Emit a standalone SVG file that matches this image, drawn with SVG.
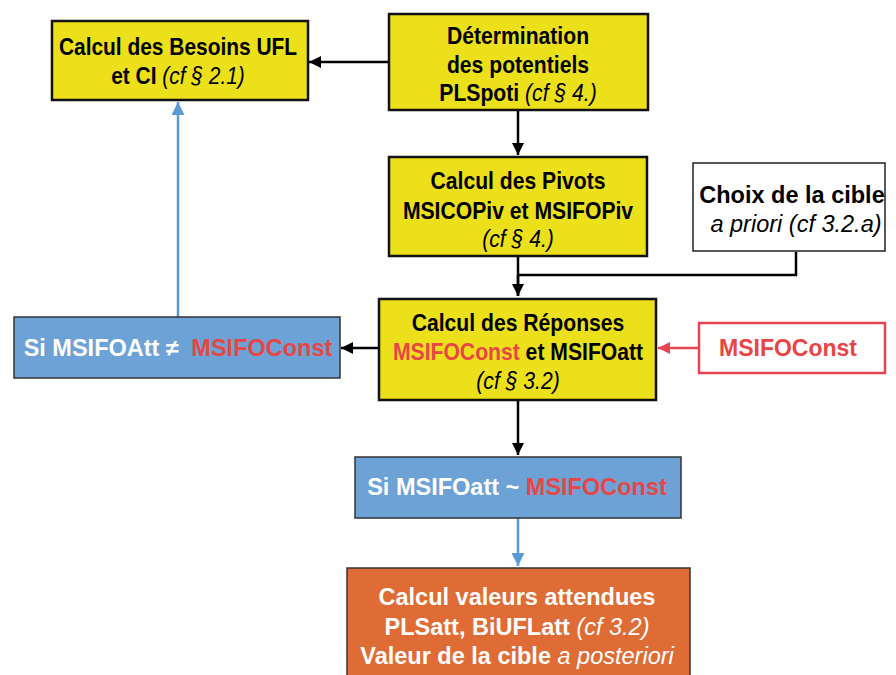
<svg xmlns="http://www.w3.org/2000/svg" width="896" height="675" viewBox="0 0 896 675">
<defs>
<style>
text{font-family:"Liberation Sans",Arial,sans-serif;font-weight:bold;text-anchor:middle}
.y{fill:#ECE01A;stroke:#111;stroke-width:2.5}
.w{fill:#fff;stroke:#222;stroke-width:1.5}
.b{fill:#6CA2D5;stroke:#333;stroke-width:1.5}
.o{fill:#E06C35;stroke:#333;stroke-width:1.5}
.r{fill:#fff;stroke:#E54550;stroke-width:2.5}
.t{font-size:23px;fill:#000}
.tw{font-size:23.5px;fill:#fff}
.red{fill:#E84545}
.it{font-style:italic;font-weight:normal}
.k{stroke:#000;stroke-width:2.5;fill:none}
.bl{stroke:#5B9BD5;stroke-width:2.5;fill:none}
.rl{stroke:#E54550;stroke-width:2.5;fill:none}
</style>
<marker id="ak" markerWidth="13" markerHeight="12" refX="10" refY="5" orient="auto" markerUnits="userSpaceOnUse" viewBox="0 0 10 10"><path d="M0,0 L10,5 L0,10 z" fill="#000"/></marker>
<marker id="ab" markerWidth="14" markerHeight="13" refX="10" refY="5" orient="auto" markerUnits="userSpaceOnUse" viewBox="0 0 10 10"><path d="M0,0 L10,5 L0,10 z" fill="#5B9BD5"/></marker>
<marker id="ar" markerWidth="13" markerHeight="12" refX="10" refY="5" orient="auto" markerUnits="userSpaceOnUse" viewBox="0 0 10 10"><path d="M0,0 L10,5 L0,10 z" fill="#E54550"/></marker>
</defs>
<rect width="896" height="675" fill="#fff"/>
<g id="connectors">
<line class="k" x1="389" y1="62" x2="309" y2="62" marker-end="url(#ak)"/>
<line class="k" x1="518" y1="110" x2="518" y2="155" marker-end="url(#ak)"/>
<polyline class="k" points="518,257 518,296"/>
<line class="k" x1="518" y1="275" x2="518" y2="296" marker-end="url(#ak)"/>
<polyline class="k" points="796,252 796,275 518,275"/>
<line class="k" x1="378" y1="348" x2="341" y2="348" marker-end="url(#ak)"/>
<line class="rl" x1="698" y1="348" x2="658" y2="348" marker-end="url(#ar)"/>
<line class="bl" x1="178" y1="317" x2="178" y2="102" marker-end="url(#ab)"/>
<line class="k" x1="518" y1="401" x2="518" y2="455" marker-end="url(#ak)"/>
<line class="bl" x1="518" y1="518" x2="518" y2="566" marker-end="url(#ab)"/>
</g>
<g id="besoins">
<rect class="y" x="52" y="21" width="256" height="79"/>
<text class="t" transform="translate(178,0) scale(0.91,1)" x="0" y="55">Calcul des Besoins UFL</text>
<text class="t" transform="translate(178,0) scale(0.91,1)" x="0" y="84">et CI <tspan class="it">(cf § 2.1)</tspan></text>
</g>
<g id="determination">
<rect class="y" x="389" y="14" width="259" height="96"/>
<text class="t" transform="translate(518,0) scale(0.92,1)" x="0" y="44">Détermination</text>
<text class="t" transform="translate(518,0) scale(0.92,1)" x="0" y="73">des potentiels</text>
<text class="t" transform="translate(518,0) scale(0.92,1)" x="0" y="101">PLSpoti <tspan class="it">(cf § 4.)</tspan></text>
</g>
<g id="pivots">
<rect class="y" x="389" y="157" width="258" height="99"/>
<text class="t" transform="translate(518,0) scale(0.92,1)" x="0" y="189">Calcul des Pivots</text>
<text class="t" transform="translate(518,0) scale(0.92,1)" x="0" y="219">MSICOPiv et MSIFOPiv</text>
<text class="t" transform="translate(518,0) scale(0.92,1)" x="0" y="247"><tspan class="it">(cf § 4.)</tspan></text>
</g>
<g id="choix">
<rect class="w" x="693" y="163" width="192" height="88"/>
<text class="t" x="792" y="203" style="font-size:23.5px">Choix de la cible</text>
<text class="t it" x="796" y="232" style="font-size:23.5px">a priori (cf 3.2.a)</text>
</g>
<g id="reponses">
<rect class="y" x="379" y="299" width="277" height="101"/>
<text class="t" transform="translate(518,0) scale(0.92,1)" x="0" y="331">Calcul des Réponses</text>
<text class="t" transform="translate(518,0) scale(0.92,1)" x="0" y="360"><tspan class="red">MSIFOConst</tspan> et MSIFOatt</text>
<text class="t" transform="translate(518,0) scale(0.92,1)" x="0" y="389"><tspan class="it">(cf § 3.2)</tspan></text>
</g>
<g id="si-diff">
<rect class="b" x="14" y="317" width="326" height="61"/>
<text class="tw" x="178" y="356">Si MSIFOAtt ≠ <tspan class="red" dx="6">MSIFOConst</tspan></text>
</g>
<g id="msifoconst">
<rect class="r" x="699" y="323" width="186" height="50"/>
<text class="t red" x="788" y="356">MSIFOConst</text>
</g>
<g id="si-approx">
<rect class="b" x="355" y="457" width="326" height="61"/>
<text class="tw" x="517" y="495">Si MSIFOatt ~ <tspan class="red">MSIFOConst</tspan></text>
</g>
<g id="valeurs">
<rect class="o" x="347" y="568" width="343" height="112"/>
<text class="tw" x="517" y="605">Calcul valeurs attendues</text>
<text class="tw" x="517" y="635">PLSatt, BiUFLatt <tspan class="it">(cf 3.2)</tspan></text>
<text class="tw" x="517" y="664">Valeur de la cible <tspan class="it">a posteriori</tspan></text>
</g>
</svg>
